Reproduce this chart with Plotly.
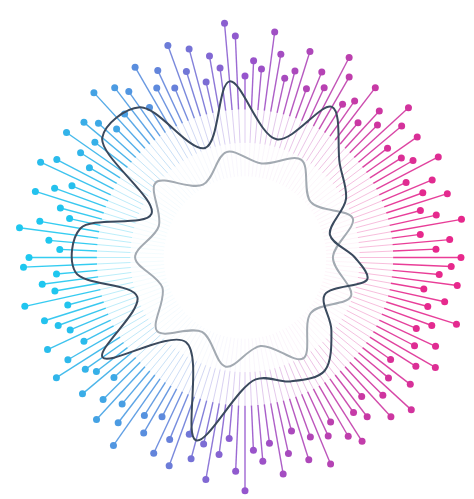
import plotly.graph_objects as go
import math

# spoke lengths (pixels from centre), counter-clockwise from east, 2.5 deg steps
spoke_len = [
 226,200,215,185,230,205,190,222,198,212,186,228,203,194,220,188,214,232,196,208,
 184,224,200,190,218,236,196,210,188,226,202,192,216,238,198,206,190,232,246,200,
 214,188,226,204,236,192,216,200,230,186,212,224,196,234,190,208,220,198,228,204,
 188,222,236,196,212,230,200,188,218,238,206,194,226,232,198,214,202,236,192,220,
 208,198,228,190,214,234,204,196,222,186,210,230,200,218,240,196,212,188,226,206,
 232,194,218,200,236,208,190,224,244,202,214,196,230,210,188,222,200,234,206,194,
 216,228,198,210,190,226,204,236,196,218,186,212,230,200,220,194,208,232,198,214,
 190,224,204,216]
theta = [i * 2.5 for i in range(len(spoke_len))]

dark_theta = [0,15,30,45,60,75,95,110,125,140,155,170,185,200,215,235,255,275,290,305,320,335,350]
dark_r     = [115,92,122,140,182,128,185,122,192,195,108,175,178,120,182,108,198,128,138,145,118,92,130]
gray_theta = [0,20,40,60,80,100,120,140,160,180,200,220,240,260,280,300,320,340]
gray_r     = [92,120,90,118,100,112,88,122,96,115,92,120,90,116,94,122,90,118]

def col(t):
    x = math.cos(math.radians(t))
    cy, pu, ma = (30, 200, 240), (150, 85, 205), (232, 40, 140)
    a, b, f = (pu, cy, -x) if x < 0 else (pu, ma, x)
    return tuple(int(a[k] + (b[k] - a[k]) * f) for k in range(3))

fig = go.Figure()
for t, r in zip(theta, spoke_len):
    c = col(t)
    for (r0, r1, al, w) in [(85, 120, 0.08, 0.7), (120, 155, 0.3, 1.0), (155, r, 0.9, 1.4)]:
        fig.add_trace(go.Scatterpolar(r=[r0, r1], theta=[t, t], mode='lines',
            line=dict(color=f'rgba({c[0]},{c[1]},{c[2]},{al})', width=w),
            hoverinfo='skip', showlegend=False))
    fig.add_trace(go.Scatterpolar(r=[r], theta=[t], mode='markers',
        marker=dict(color=f'rgb{c}', size=7), showlegend=False))

fig.add_trace(go.Scatterpolar(r=gray_r + gray_r[:1], theta=gray_theta + gray_theta[:1], mode='lines',
    line=dict(color='#a3aab2', width=2, shape='spline'), showlegend=False))
fig.add_trace(go.Scatterpolar(r=dark_r + dark_r[:1], theta=dark_theta + dark_theta[:1], mode='lines',
    line=dict(color='#3b4a5e', width=2, shape='spline'), showlegend=False))

fig.update_layout(width=474, height=499, margin=dict(l=0, r=0, t=0, b=0),
    paper_bgcolor='white',
    polar=dict(bgcolor='white', domain=dict(x=[0, 1], y=[0, 1]),
        radialaxis=dict(range=[0, 248], visible=False),
        angularaxis=dict(visible=False, rotation=0, direction='counterclockwise')))
fig.write_html("out.html")
